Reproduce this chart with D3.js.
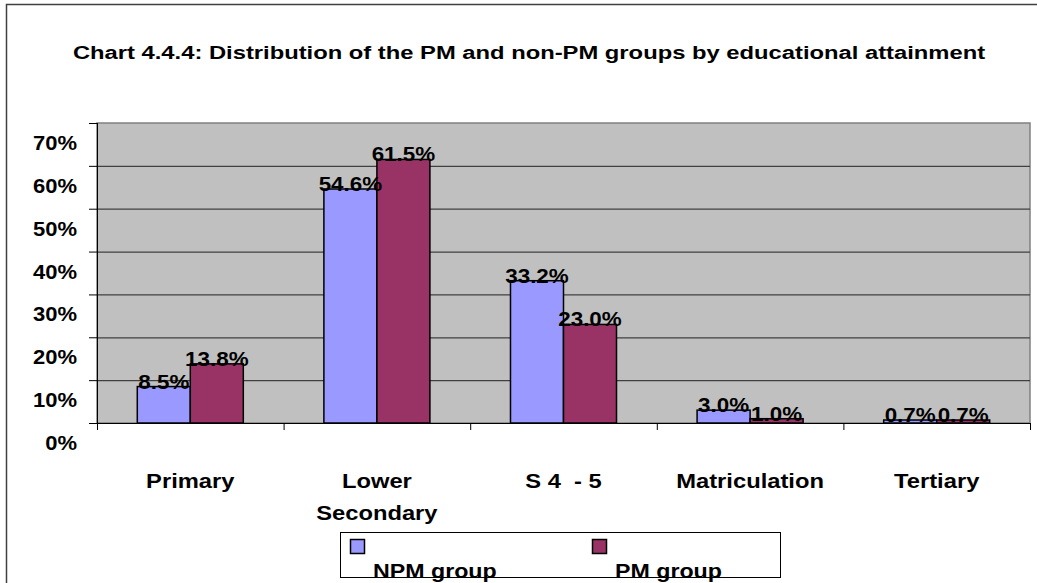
<!DOCTYPE html>
<html>
<head>
<meta charset="utf-8">
<script src="https://cdn.jsdelivr.net/npm/d3@7"></script>
<style>
  body { margin: 0; background: #fff; }
  text { font-family: "Liberation Sans", Arial, sans-serif; font-weight: bold; fill: #000; white-space: pre; }
</style>
</head>
<body>
<svg id="chart" width="1037" height="583"></svg>
<script>
// data
const categories = ["Primary", "Lower\nSecondary", "S 4  - 5", "Matriculation", "Tertiary"];
const seriesNames = ["NPM group", "PM group"];
const npmValues = [8.5, 54.6, 33.2, 3.0, 0.7];
const pmValues = [13.8, 61.5, 23.0, 1.0, 0.7];
const yTicks = [0, 10, 20, 30, 40, 50, 60, 70];
const colors = ["#9999ff", "#993366"];
const title = "Chart 4.4.4: Distribution of the PM and non-PM groups by educational attainment";

const svg = d3.select("#chart");
const plotLeft = 97, plotRight = 1030, plotTop = 123, plotBottom = 423;

// stretch text a little wider, like the original rendering
function widen(sel, k) {
  sel.each(function() {
    const len = this.getComputedTextLength();
    d3.select(this).attr("textLength", len * k).attr("lengthAdjust", "spacingAndGlyphs");
  });
}

// outer frame
svg.append("rect").attr("x", 6.5).attr("y", 4.5).attr("width", 1040).attr("height", 600)
  .attr("fill", "none").attr("stroke", "#404040").attr("stroke-width", 1.5);

svg.append("text").attr("x", 529).attr("y", 59).attr("text-anchor", "middle")
  .style("font-size", "18px").text(title).call(widen, 1.32);

var y = d3.scaleLinear().domain([0, 70]).range([plotBottom, plotTop]);
var x0 = d3.scaleBand().domain(categories).range([plotLeft, plotRight]);
var x1 = d3.scaleBand().domain(seriesNames).range([0, x0.bandwidth()]).paddingOuter(0.76);

// plot background
svg.append("rect").attr("x", plotLeft).attr("y", plotTop).attr("width", plotRight - plotLeft).attr("height", plotBottom - plotTop)
  .attr("fill", "#c0c0c0").attr("stroke", "#808080").attr("stroke-width", 1.5);

// gridlines
svg.append("g").attr("transform", "translate(" + plotLeft + ",0)")
  .call(d3.axisLeft(y).tickValues(yTicks.slice(1, -1)).tickSize(-(plotRight - plotLeft)).tickFormat(""))
  .call(g => g.select(".domain").remove())
  .call(g => g.selectAll("line").attr("stroke", "#404040").attr("stroke-width", 1.2));

// y axis ticks
svg.append("g").attr("transform", "translate(" + plotLeft + ",0)")
  .call(d3.axisLeft(y).tickValues(yTicks).tickSize(8).tickSizeOuter(0).tickFormat(""))
  .call(g => g.select(".domain").attr("stroke", "#000").attr("d", "M0.5," + plotTop + "V" + (plotBottom + 7)))
  .call(g => g.selectAll("line").attr("stroke", "#000"));

svg.selectAll(".ylab").data(yTicks).enter().append("text").attr("class", "ylab")
  .attr("x", 77).attr("y", d => y(d) + 27).attr("text-anchor", "end")
  .style("font-size", "20px").text(d => d + "%").call(widen, 1.1);

// x axis with ticks at category boundaries
var xb = d3.scaleLinear().domain([0, categories.length]).range([plotLeft, plotRight]);
svg.append("g").attr("transform", "translate(0," + plotBottom + ")")
  .call(d3.axisBottom(xb).ticks(categories.length).tickSize(7).tickSizeOuter(0).tickFormat(""))
  .call(g => g.select(".domain").attr("stroke", "#000"))
  .call(g => g.selectAll("line").attr("stroke", "#000"));

// bars
const rows = categories.map((c, i) => ({ cat: c, vals: [npmValues[i], pmValues[i]] }));
var grp = svg.selectAll(".grp").data(rows).enter().append("g").attr("class", "grp")
  .attr("transform", d => "translate(" + x0(d.cat) + ",0)");

grp.selectAll("rect").data(d => d.vals.map((v, j) => ({ s: seriesNames[j], v: v, j: j })))
  .enter().append("rect")
  .attr("x", d => x1(d.s)).attr("width", x1.bandwidth())
  .attr("y", d => y(d.v)).attr("height", d => plotBottom - y(d.v))
  .attr("fill", d => colors[d.j]).attr("stroke", "#000").attr("stroke-width", 1.5);

grp.selectAll(".val").data(d => d.vals.map((v, j) => ({ s: seriesNames[j], v: v })))
  .enter().append("text").attr("class", "val")
  .attr("x", d => x1(d.s) + x1.bandwidth() / 2).attr("y", d => y(d.v) + 2)
  .attr("text-anchor", "middle").style("font-size", "20px")
  .text(d => d.v.toFixed(1) + "%").call(widen, 1.12);

// category labels
svg.selectAll(".cat").data(categories).enter().append("text").attr("class", "cat")
  .attr("x", d => x0(d) + x0.bandwidth() / 2).attr("y", 488).attr("text-anchor", "middle")
  .style("font-size", "21px")
  .each(function(d) {
    var t = d3.select(this);
    d.split("\n").forEach((line, i) => {
      t.append("tspan").attr("x", x0(d) + x0.bandwidth() / 2).attr("dy", i ? 32 : 0).text(line)
        .call(widen, 1.13);
    });
  });

// legend
var lg = svg.append("g");
lg.append("rect").attr("x", 340.5).attr("y", 532.5).attr("width", 440).attr("height", 45)
  .attr("fill", "#fff").attr("stroke", "#000");
const legendX = [350, 592];
seriesNames.forEach((s, i) => {
  lg.append("rect").attr("x", legendX[i] + 0.5).attr("y", 539.5).attr("width", 14).attr("height", 14)
    .attr("fill", colors[i]).attr("stroke", "#000").attr("stroke-width", 1.5);
  lg.append("text").attr("x", legendX[i] + 23).attr("y", 578).style("font-size", "20px").text(s).call(widen, 1.16);
});
</script>
</body>
</html>
